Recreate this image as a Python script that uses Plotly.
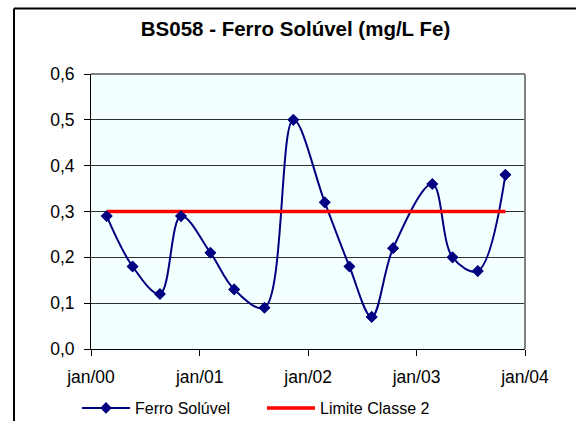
import plotly.graph_objects as go

# Data
dates = ["2000-02-23", "2000-05-20", "2000-08-20", "2000-10-30",
         "2001-02-06", "2001-04-27", "2001-08-07", "2001-11-12",
         "2002-02-26", "2002-05-20", "2002-08-03", "2002-10-14",
         "2003-02-23", "2003-05-02", "2003-07-26", "2003-10-27"]
ferro = [0.29, 0.18, 0.12, 0.29, 0.21, 0.13, 0.09, 0.50,
         0.32, 0.18, 0.07, 0.22, 0.36, 0.20, 0.17, 0.38]
limite = [0.30] * len(dates)

x_tickvals = ["2000-01-01", "2001-01-01", "2002-01-01", "2003-01-01", "2004-01-01"]
x_ticktext = ["jan/00", "jan/01", "jan/02", "jan/03", "jan/04"]
y_tickvals = [0.0, 0.1, 0.2, 0.3, 0.4, 0.5, 0.6]
y_ticktext = ["0,0", "0,1", "0,2", "0,3", "0,4", "0,5", "0,6"]

NAVY = "#000080"
RED = "#FF0000"
FONT = "Liberation Sans, Arial, sans-serif"

fig = go.Figure()
fig.add_trace(go.Scatter(
    x=dates, y=ferro, name="Ferro Solúvel", mode="lines+markers",
    line=dict(color=NAVY, width=2, shape="spline", smoothing=1.0),
    marker=dict(symbol="diamond", size=9, color=NAVY),
))
fig.add_trace(go.Scatter(
    x=dates, y=limite, name="Limite Classe 2", mode="lines",
    line=dict(color=RED, width=3.5),
))
fig.add_trace(go.Scatter(
    x=dates, y=ferro, mode="markers", showlegend=False, hoverinfo="skip",
    marker=dict(symbol="diamond", size=9, color=NAVY),
))

L, R, T, B = 91, 525, 74, 349
W, H = 576, 421
pw, ph = R - L, B - T

def px_x(p):
    return (p - L) / pw

def px_y(p):
    return (B - p) / ph

fig.update_layout(
    width=W, height=H,
    margin=dict(l=L, r=W - R, t=T, b=H - B, pad=0, autoexpand=False),
    paper_bgcolor="white",
    plot_bgcolor="#F4FFFF",
    font=dict(family=FONT, color="black"),
    title=dict(text="<b>BS058 - Ferro Solúvel (mg/L Fe)</b>",
               font=dict(size=20.5, family=FONT, color="black"),
               x=295.5 / W, xanchor="center", xref="container",
               y=1 - 29 / H, yanchor="middle", yref="container"),
    showlegend=True,
    legend=dict(orientation="h", x=px_x(77), xanchor="left",
                y=px_y(408), yanchor="middle",
                font=dict(size=16, family=FONT, color="black"),
                bgcolor="rgba(0,0,0,0)", entrywidth=122, entrywidthmode="pixels",
                traceorder="normal", itemwidth=48),
    xaxis=dict(
        type="date", range=["2000-01-01", "2004-01-01"],
        tickvals=x_tickvals, ticktext=x_ticktext,
        ticks="outside", ticklen=6, tickwidth=1, tickcolor="black",
        showline=True, linecolor="black", linewidth=1,
        showgrid=False, zeroline=False,
        tickfont=dict(size=17.5, family=FONT, color="black"),
        ticklabelstandoff=6,
    ),
    yaxis=dict(
        range=[0, 0.6], tickvals=y_tickvals, ticktext=y_ticktext,
        ticks="outside", ticklen=6, tickwidth=1, tickcolor="black",
        showline=True, linecolor="black", linewidth=1,
        showgrid=True, gridcolor="#303030", gridwidth=1, zeroline=False,
        tickfont=dict(size=17.5, family=FONT, color="black"),
        ticklabelstandoff=6,
    ),
    shapes=[
        dict(type="line", xref="paper", yref="paper", x0=0, x1=1, y0=1, y1=1,
             line=dict(color="#808080", width=2)),
        dict(type="line", xref="paper", yref="paper", x0=1, x1=1, y0=0, y1=1,
             line=dict(color="#808080", width=2)),
        dict(type="line", xref="paper", yref="paper",
             x0=px_x(14), x1=px_x(590), y0=px_y(8.5), y1=px_y(8.5),
             line=dict(color="black", width=2), layer="above"),
        dict(type="line", xref="paper", yref="paper",
             x0=px_x(14), x1=px_x(14), y0=px_y(8.5), y1=px_y(440),
             line=dict(color="black", width=2), layer="above"),
    ],
)

fig.write_html("out.html", config={"displayModeBar": False},
               post_script="document.body.style.margin='0';")
